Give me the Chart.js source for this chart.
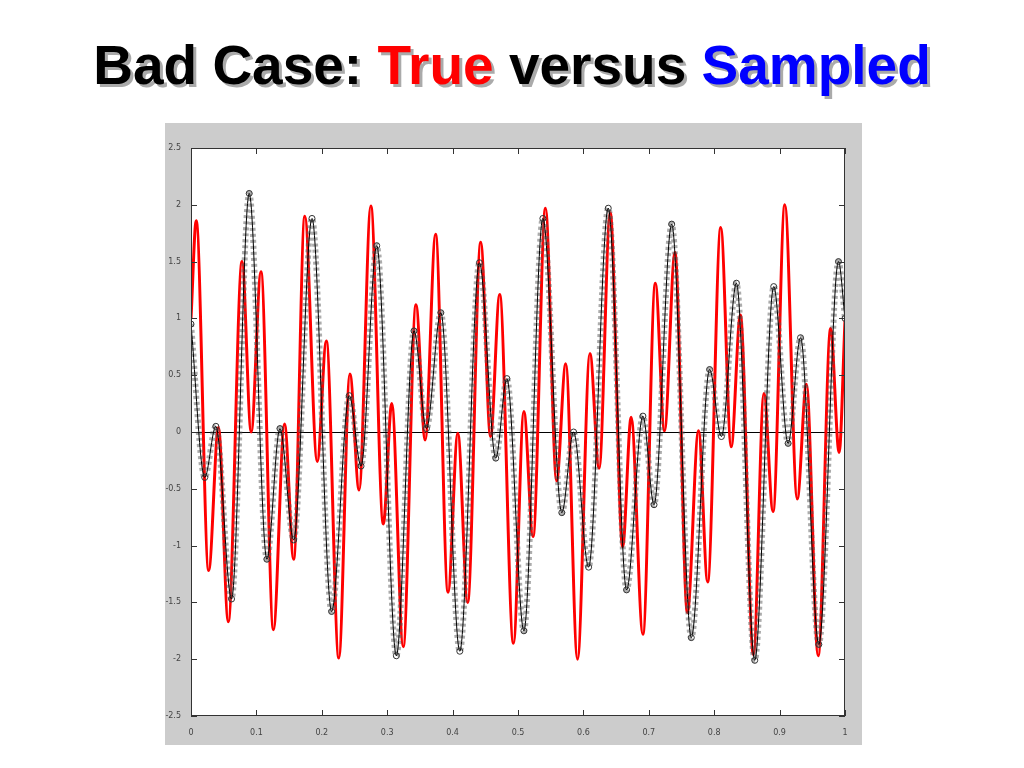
<!DOCTYPE html>
<html>
<head>
<meta charset="utf-8">
<script src="https://cdn.jsdelivr.net/npm/chart.js@4/dist/chart.umd.min.js"></script>
<style>
  body { margin: 0; background: #fff; width: 1024px; height: 768px; overflow: hidden; }
  #title {
    position: absolute; left: 0; width: 1024px; top: 32px; text-align: center;
    font-family: "Liberation Sans", Arial, sans-serif; font-weight: bold; font-size: 55px;
    line-height: 66px; text-shadow: 3px 3px 0 #aaa; white-space: nowrap;
  }
  #frame { position: absolute; left: 165px; top: 123px; width: 697px; height: 622px; background: #cccccc; }
</style>
</head>
<body>
<div id="title">Bad Case: <span style="color:#ff0000">True</span> versus <span style="color:#0000ff">Sampled</span></div>
<div id="frame"><canvas id="c"></canvas></div>
<script>
// true signal (red), read at its peaks and troughs
var trueX = [0, .008, .027, .042, .057, .078, .092, .107, .126, .143, .157, .174, .193, .207, .226, .243, .257, .275, .294, .307,
  .3245, .344, .358, .374, .393, .408, .423, .443, .458, .472, .493, .509, .523, .542, .559, .573, .591, .610, .624, .641, .660, .673,
  .691, .710, .724, .740, .759, .776, .790, .810, .826, .840, .860, .876, .890, .908, .927, .941, .959, .978, .991, 1.0];
var trueY = [1.0, 1.86, -1.22, 0.04, -1.67, 1.50, 0.0, 1.41, -1.74, 0.07, -1.12, 1.90, -0.26, 0.80, -1.99, 0.51, -0.51, 1.99, -0.81, 0.25,
  -1.89, 1.12, -0.07, 1.74, -1.41, -0.01, -1.50, 1.67, -0.04, 1.21, -1.86, 0.18, -0.92, 1.97, -0.43, 0.60, -2.00, 0.69, -0.32, 1.93, -1.01, 0.13,
  -1.78, 1.31, 0.01, 1.58, -1.59, 0.01, -1.32, 1.80, -0.13, 1.03, -1.96, 0.34, -0.70, 2.00, -0.59, 0.42, -1.97, 0.91, -0.18, 0.98];

// sampled signal (black with circles), read at its peaks and troughs
var sampX = [0, .021, .038, .062, .089, .116, .136, .157, .185, .215, .242, .260, .284, .314,
  .341, .360, .382, .411, .441, .466, .483, .509, .538, .567, .585, .608, .638, .666,
  .691, .708, .735, .765, .793, .811, .834, .862, .891, .913, .932, .960, .990, 1.0];
var sampY = [0.95, -0.40, 0.05, -1.47, 2.10, -1.12, 0.03, -0.95, 1.88, -1.58, 0.32, -0.30, 1.64, -1.97,
  0.89, 0.03, 1.05, -1.93, 1.49, -0.23, 0.47, -1.75, 1.88, -0.71, 0.0, -1.19, 1.97, -1.39,
  0.14, -0.64, 1.83, -1.81, 0.55, -0.04, 1.31, -2.01, 1.28, -0.10, 0.83, -1.87, 1.50, 1.0];

var xTicks = [0, 0.1, 0.2, 0.3, 0.4, 0.5, 0.6, 0.7, 0.8, 0.9, 1];
var yTicks = [-2.5, -2, -1.5, -1, -0.5, 0, 0.5, 1, 1.5, 2, 2.5];

function pts(xs, ys) {
  return xs.map(function (x, i) { return { x: x, y: ys[i] }; });
}

// white plot area, box, inward ticks, zero line
const plotDecor = {
  id: 'plotDecor',
  beforeDraw(chart) {
    const a = chart.chartArea, ctx = chart.ctx;
    ctx.save();
    ctx.fillStyle = '#fff';
    ctx.fillRect(a.left, a.top, a.right - a.left, a.bottom - a.top);
    ctx.restore();
  },
  beforeDatasetsDraw(chart) {
    const a = chart.chartArea, ctx = chart.ctx;
    const sy = chart.scales.y;
    ctx.save();
    ctx.strokeStyle = '#000';
    ctx.lineWidth = 1;
    const y0 = Math.round(sy.getPixelForValue(0)) + 0.5;
    ctx.beginPath(); ctx.moveTo(a.left, y0); ctx.lineTo(a.right, y0); ctx.stroke();
    ctx.restore();
  },
  afterDatasetsDraw(chart) {
    const a = chart.chartArea, ctx = chart.ctx;
    const sx = chart.scales.x, sy = chart.scales.y;
    ctx.save();
    ctx.strokeStyle = '#333';
    ctx.lineWidth = 1;
    ctx.strokeRect(a.left + 0.5, a.top + 0.5, a.right - a.left - 1, a.bottom - a.top - 1);
    ctx.beginPath();
    xTicks.forEach(function (v) {
      const p = Math.round(sx.getPixelForValue(v)) + 0.5;
      ctx.moveTo(p, a.bottom); ctx.lineTo(p, a.bottom - 6);
      ctx.moveTo(p, a.top); ctx.lineTo(p, a.top + 6);
    });
    yTicks.forEach(function (v) {
      const p = Math.round(sy.getPixelForValue(v)) + 0.5;
      ctx.moveTo(a.left, p); ctx.lineTo(a.left + 6, p);
      ctx.moveTo(a.right, p); ctx.lineTo(a.right - 6, p);
    });
    ctx.stroke();
    ctx.restore();
  }
};

new Chart(document.getElementById('c'), {
  type: 'line',
  data: {
    datasets: [
      {
        label: 'sampled',
        data: pts(sampX, sampY),
        borderColor: '#000',
        borderWidth: 1,
        pointRadius: 3,
        pointStyle: 'circle',
        pointBackgroundColor: 'rgba(0,0,0,0)',
        pointBorderColor: '#333',
        pointBorderWidth: 1,
        cubicInterpolationMode: 'monotone',
        order: 2
      },
      {
        label: 'sampled chain',
        data: pts(sampX, sampY),
        borderColor: 'rgba(90,90,90,0.5)',
        borderWidth: 6,
        borderDash: [3, 3],
        pointRadius: 0,
        cubicInterpolationMode: 'monotone',
        order: 3
      },
      {
        label: 'true',
        data: pts(trueX, trueY),
        borderColor: '#ff0000',
        borderWidth: 3,
        pointRadius: 0,
        cubicInterpolationMode: 'monotone',
        order: 4
      }
    ]
  },
  options: {
    responsive: true,
    maintainAspectRatio: false,
    animation: false,
    events: [],
    layout: { padding: { top: 25, right: 17, left: 0, bottom: 0 } },
    plugins: { legend: { display: false }, tooltip: { enabled: false } },
    scales: {
      x: {
        type: 'linear', min: 0, max: 1,
        afterFit(s) { s.height = 29; },
        afterBuildTicks(s) { s.ticks = xTicks.map(function (v) { return { value: v }; }); },
        grid: { display: false },
        border: { display: false },
        ticks: { color: '#444', font: { size: 8, family: 'DejaVu Sans' }, padding: 4, maxRotation: 0,
          callback: function (v) { return String(v); } }
      },
      y: {
        min: -2.5, max: 2.5,
        afterFit(s) { s.width = 26; },
        afterBuildTicks(s) { s.ticks = yTicks.map(function (v) { return { value: v }; }); },
        grid: { display: false },
        border: { display: false },
        ticks: { color: '#444', font: { size: 8, family: 'DejaVu Sans' }, padding: 2,
          callback: function (v) { return String(v); } }
      }
    }
  },
  plugins: [plotDecor]
});
</script>
</body>
</html>
